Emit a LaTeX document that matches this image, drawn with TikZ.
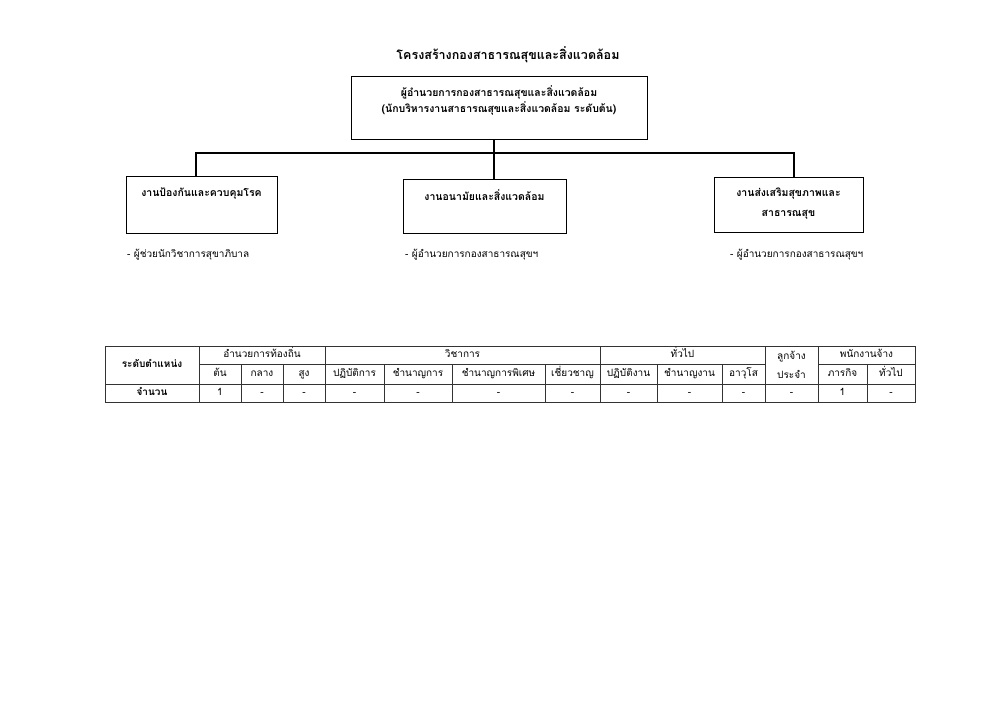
\documentclass[tikz,border=0pt]{standalone}
\usepackage{fontspec}
\setmainfont[Script=Thai]{Loma}
\usetikzlibrary{positioning}

\begin{document}
\begin{tikzpicture}[x=1pt, y=-1pt,
    unit/.style={draw, line width=0.9pt, inner sep=0pt},
    unittext/.style={font=\bfseries\fontsize{10.5}{16}\selectfont, align=center, inner sep=0pt},
    staff/.style={anchor=west, inner sep=0pt, font=\fontsize{10}{12}\selectfont},
    cell/.style={inner sep=0pt, text height=7pt, text depth=2pt, font=\fontsize{10}{12}\selectfont},
    grid/.style={line width=0.6pt, black!80},
    link/.style={line width=1.1pt}]

    % 1. Page frame
    \useasboundingbox (0,0) rectangle (1000,707);

    % 2. Title
    \node[font=\bfseries\fontsize{12.5}{15}\selectfont] (title) at (508,55) {โครงสร้างกองสาธารณสุขและสิ่งแวดล้อม};

    % 3. Boxes
    \node[unit, minimum width=296, minimum height=63] (dir) at (499,107.5) {};
    \node[unittext, below=10pt of dir.north] (dirtext)
        {ผู้อำนวยการกองสาธารณสุขและสิ่งแวดล้อม\\(นักบริหารงานสาธารณสุขและสิ่งแวดล้อม ระดับต้น)};

    \node[unit, minimum width=151, minimum height=57] (prev) at (201.5,204.5) {};
    \node[unittext, below=11.5pt of prev.north] (prevtext) {งานป้องกันและควบคุมโรค};

    \node[unit, minimum width=163, minimum height=54] (mid) at (484.5,206) {};
    \node[unittext, below=11pt of mid.north] (midtext) {งานอนามัยและสิ่งแวดล้อม};

    \node[unit, minimum width=149, minimum height=55] (prom) at (788.5,204.5) {};
    \node[unittext, below=11pt of prom.north, font=\bfseries\fontsize{10.5}{20}\selectfont] (promtext)
        {งานส่งเสริมสุขภาพและ\\สาธารณสุข};

    % 4. Connectors
    \coordinate (bus) at (494,153);
    \draw[link] (dir.south -| bus) -- (mid.north -| bus);
    \draw[link] ([xshift=-5.5pt]prev.north) |- (bus) -| ([xshift=5.5pt]prom.north);

    % 5. Staff under each box
    \node[staff] (prevstaff) at (127,255) {- ผู้ช่วยนักวิชาการสุขาภิบาล};
    \node[staff] (midstaff) at (405,255) {- ผู้อำนวยการกองสาธารณสุขฯ};
    \node[staff] (promstaff) at (730,255) {- ผู้อำนวยการกองสาธารณสุขฯ};

    % 6. Table lines
    \draw[grid] (105,346) rectangle (915,402);
    \draw[grid] (199,364) -- (765,364) (818,364) -- (915,364);
    \draw[grid] (105,384) -- (915,384);
    \foreach \x in {199,325,600,765,818}
        \draw[grid] (\x,346) -- (\x,402);
    \foreach \x in {241,283,384,452,545,657,722,867}
        \draw[grid] (\x,364) -- (\x,402);

    % 7. Table headings
    \node[cell, font=\bfseries\fontsize{10}{12}\selectfont] (level) at (152,365) {ระดับตำแหน่ง};
    \node[cell] (local) at (262,355) {อำนวยการท้องถิ่น};
    \node[cell] (acad) at (462.5,355) {วิชาการ};
    \node[cell] (gen) at (682.5,355) {ทั่วไป};
    \node[inner sep=0pt, align=center, font=\fontsize{10}{19}\selectfont] (perm) at (791.5,365) {ลูกจ้าง\\ประจำ};
    \node[cell] (emp) at (866.5,355) {พนักงานจ้าง};
    \foreach \x/\t [count=\i] in {220/ต้น, 262/กลาง, 304/สูง, 354.5/ปฏิบัติการ, 418/ชำนาญการ,
        498.5/ชำนาญการพิเศษ, 572.5/เชี่ยวชาญ, 628.5/ปฏิบัติงาน, 689.5/ชำนาญงาน, 743.5/อาวุโส,
        842.5/ภารกิจ, 891/ทั่วไป}
        \node[cell] (lv\i) at (\x,374) {\t};

    % 8. Table numbers
    \node[cell, font=\bfseries\fontsize{10}{12}\selectfont] (count) at (152,393) {จำนวน};
    \foreach \x/\t [count=\i] in {220/1, 262/-, 304/-, 354.5/-, 418/-, 498.5/-, 572.5/-,
        628.5/-, 689.5/-, 743.5/-, 791.5/-, 842.5/1, 891/-}
        \node[cell] (num\i) at (\x,393) {\t};

\end{tikzpicture}
\end{document}
